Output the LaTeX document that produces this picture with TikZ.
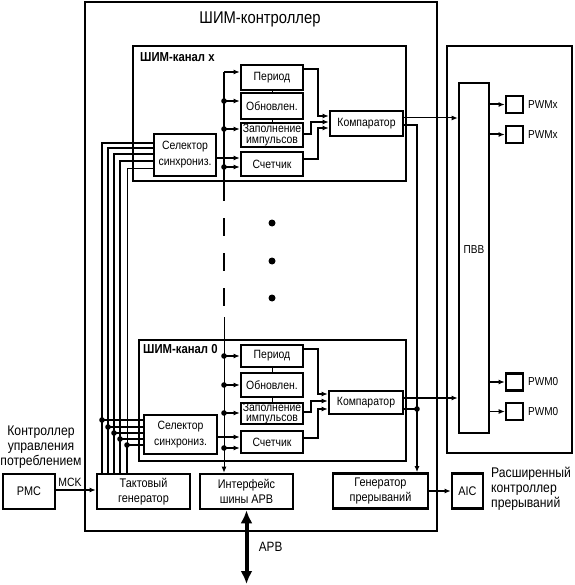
\documentclass[tikz,border=0pt]{standalone}
\usepackage{fontspec}
\setmainfont{Liberation Sans}[FakeStretch=0.87]
\usetikzlibrary{arrows.meta}
\tikzset{
  panel/.style    = {shape=rectangle, draw, line width=2.6pt},
  block/.style    = {panel, align=center, inner sep=0pt,
                     font=\fontsize{12}{16}\selectfont},
  bigblock/.style = {block, font=\fontsize{12.5}{15.5}\selectfont,
                     minimum height=35pt},
  pad/.style      = {panel, minimum width=17pt, minimum height=17pt},
  chlabel/.style  = {anchor=west, inner sep=0pt,
                     font=\bfseries\fontsize{13}{15}\selectfont},
  caption/.style  = {inner sep=0pt, font=\fontsize{14}{15}\selectfont},
  wire/.style     = {line width=2pt},
  thinwire/.style = {line width=1pt},
  arr/.style      = {-{Latex[length=6pt,width=5pt]}}
}
\begin{document}
\begin{tikzpicture}
  [
    x = 1pt, y = -1pt,
    every node/.style = {font=\fontsize{12}{16}\selectfont}
  ]
  \useasboundingbox (0,0) rectangle (574,585);

  % frames
  \node [panel, minimum width=352pt, minimum height=529pt] (ctrl) at (261,266.5) {};
  \node [font=\fontsize{17}{20}\selectfont] (title) at (260,19) {ШИМ-контроллер};
  \node [panel, minimum width=125pt, minimum height=407pt] (pio) at (509.5,249.5) {};
  \node [panel, minimum width=30pt, minimum height=350pt] (pvv) at (474,258) {};
  \node [font=\fontsize{11.5}{13}\selectfont] (pvvlbl) at (474,250) {ПВВ};
  \foreach \n/\y/\t in {px1/104.5/PWMx, px2/134.5/PWMx, p01/382/PWM0, p02/411.5/PWM0} {
    \node [pad] (\n) at (514.5,\y) {};
    \node [anchor=west, inner sep=0pt, font=\fontsize{11.5}{13}\selectfont] (\n-lbl) at (528,\y) {\t};
  }

  % channel x
  \node [panel, minimum width=273pt, minimum height=135pt] (chx) at (269.5,113.5) {};
  \node [chlabel] (chxlbl) at (140,57) {ШИМ-канал x};
  \node [block, minimum width=62pt, minimum height=25pt] (perx)  at (272,77.5) {Период};
  \node [block, minimum width=62pt, minimum height=26pt] (updx)  at (272,106)  {Обновлен.};
  \node [block, minimum width=62pt, minimum height=24pt,
         font=\fontsize{12}{10.5}\selectfont]             (fillx) at (272,135)  {Заполнение\\импульсов};
  \node [block, minimum width=62pt, minimum height=24pt] (cntx)  at (272,164)  {Счетчик};
  \node [block, minimum width=73pt, minimum height=25pt] (cmpx)  at (366.5,123.5) {Компаратор};
  \node [block, minimum width=62pt, minimum height=42pt] (selx)  at (185,155)  {Селектор\\синхрониз.};

  % channel 0
  \node [panel, minimum width=267pt, minimum height=121pt] (ch0) at (272.5,400.5) {};
  \node [chlabel] (ch0lbl) at (143,349) {ШИМ-канал 0};
  \node [block, minimum width=62pt, minimum height=22pt] (per0)  at (272,356)   {Период};
  \node [block, minimum width=62pt, minimum height=24pt] (upd0)  at (272,385)   {Обновлен.};
  \node [block, minimum width=62pt, minimum height=21pt,
         font=\fontsize{12}{10.5}\selectfont]             (fill0) at (272,413.5) {Заполнение\\импульсов};
  \node [block, minimum width=62pt, minimum height=22pt] (cnt0)  at (272,442)   {Счетчик};
  \node [block, minimum width=74pt, minimum height=23pt] (cmp0)  at (366,402.5) {Компаратор};
  \node [block, minimum width=73pt, minimum height=39pt] (sel0)  at (180.5,434.5) {Селектор\\синхрониз.};

  % bottom row
  \node [bigblock, minimum width=52pt] (pmc)   at (29,491.5)   {PMC};
  \node [bigblock, minimum width=93pt] (tact)  at (143.5,491.5) {Тактовый\\генератор};
  \node [bigblock, minimum width=93pt] (iface) at (246.5,491.5) {Интерфейс\\шины APB};
  \node [bigblock, minimum width=95pt] (irq)   at (380.5,491)   {Генератор\\прерываний};
  \node [bigblock, minimum width=31pt] (aic)   at (467.5,491)   {AIC};
  \node [caption, align=center] (pmclbl) at (41,447) {Контроллер\\управления\\потреблением};
  \node [caption, align=left, anchor=west] (aiclbl) at (491,489) {Расширенный\\контроллер\\прерываний};

  % register bus
  \coordinate (busx) at (224,72);
  \coordinate (busd) at (224,183);
  \coordinate (bus0) at (224,317);
  \draw [wire, arr] (busx) -- (busx -| perx.west);
  \draw [wire] (busx) -- (busd);
  \draw [wire, dash pattern=on 18pt off 17pt] (busd) -- (224,306);
  \draw [thinwire, arr] (bus0) -- (bus0 |- iface.north);
  \foreach \n/\y in {tx1/101, tx2/129, tx3/167, t01/356, t02/385, t03/413, t04/448} {
    \coordinate (\n) at (224,\y);
    \fill (\n) circle (2.8pt);
  }
  \draw [wire, arr] (tx1) -- (tx1 -| updx.west);
  \draw [wire, arr] (tx2) -- (tx2 -| fillx.west);
  \draw [wire, arr] (tx3) -- (tx3 -| cntx.west);
  \draw [wire, arr] (t01) -- (t01 -| per0.west);
  \draw [wire, arr] (t02) -- (t02 -| upd0.west);
  \draw [wire, arr] (t03) -- (t03 -| fill0.west);
  \draw [wire, arr] (t04) -- (t04 -| cnt0.west);
  \foreach \a/\b in {perx/updx, updx/fillx, per0/upd0, upd0/fill0}
    \draw [thinwire] (\a) -- (\b);

  % selector to counter
  \coordinate (scx) at ([yshift=6pt]cntx.west);
  \coordinate (sc0) at ([yshift=5pt]cnt0.west);
  \draw [wire, arr] (scx -| selx.east) -- (scx);
  \draw [wire, arr] (sc0 -| sel0.east) -- (sc0);

  % comparator inputs
  \draw [wire, arr] ([yshift=8.5pt]perx.east) -| (318,116) -- ([yshift=7.5pt]cmpx.west);
  \draw [wire, arr] ([yshift=1pt]fillx.east)  -| (311,122) -- ([yshift=1.5pt]cmpx.west);
  \draw [wire, arr] ([yshift=5pt]cntx.east)   -| (318,128) -- ([yshift=-4.5pt]cmpx.west);
  \draw [wire, arr] ([yshift=7pt]per0.east)   -| (318,394) -- ([yshift=8.5pt]cmp0.west);
  \draw [wire, arr] ([yshift=1.5pt]fill0.east) -| (311,401) -- ([yshift=1.5pt]cmp0.west);
  \draw [wire, arr] ([yshift=4pt]cnt0.east)   -| (318,409) -- ([yshift=-6.5pt]cmp0.west);

  % comparator outputs
  \coordinate (cx1) at ([yshift=5.5pt]cmpx.east);
  \coordinate (cx2) at ([yshift=-1.5pt]cmpx.east);
  \coordinate (c01) at ([yshift=4.5pt]cmp0.east);
  \coordinate (c02) at ([yshift=-6.5pt]cmp0.east);
  \coordinate (irqin) at ([xshift=36.5pt]irq.north);
  \draw [thinwire, arr] (cx1) -- (cx1 -| pvv.west);
  \draw [wire, arr] (cx2) -| (irqin);
  \draw [wire, arr] (c01) -- (c01 -| pvv.west);
  \draw [wire] (c02) -- (c02 -| irqin);
  \fill (c02 -| irqin) circle (2.8pt);

  % pins
  \draw [wire, arr] (px1 -| pvv.east) -- (px1.west);
  \draw [wire, arr] (px2 -| pvv.east) -- (px2.west);
  \draw [wire, arr] (p01 -| pvv.east) -- (p01.west);
  \draw [thinwire, arr] (p02 -| pvv.east) -- (p02.west);

  % clock lines
  \foreach \x/\ya/\yb in {102/143/420, 108/148/427, 114/154/433, 120/161/439} {
    \draw [wire] (tact.north -| \x,0) |- (selx.west |- 0,\ya);
    \draw [wire] (\x,\yb) -- (sel0.west |- 0,\yb);
    \fill (\x,\yb) circle (2.8pt);
  }
  \draw [wire] (tact.north -| 127,0) -- (127,445) -- (sel0.west |- 0,445);
  \draw [thinwire] (127,445) |- (selx.west |- 0,169);
  \fill (127,445) circle (2.8pt);

  % more channels
  \foreach \y in {223,261,298}
    \fill (272,\y) circle (3.5pt);

  % outside links
  \draw [wire, arr] (pmc.east |- 0,490) -- (tact.west |- 0,490)
    node [pos=0.35, above, inner sep=2pt, font=\fontsize{12}{14}\selectfont] {MCK};
  \draw [wire, arr] (irq.east) -- (aic.west);
  \coordinate (apbend) at (iface.south |- 0,584);
  \draw [line width=4pt, {Latex[length=13pt,width=12pt]}-{Latex[length=13pt,width=12pt]}]
    (iface.south) -- (apbend)
    node [pos=0.5, right=7pt, font=\fontsize{13.5}{15}\selectfont] {APB};
\end{tikzpicture}
\end{document}
